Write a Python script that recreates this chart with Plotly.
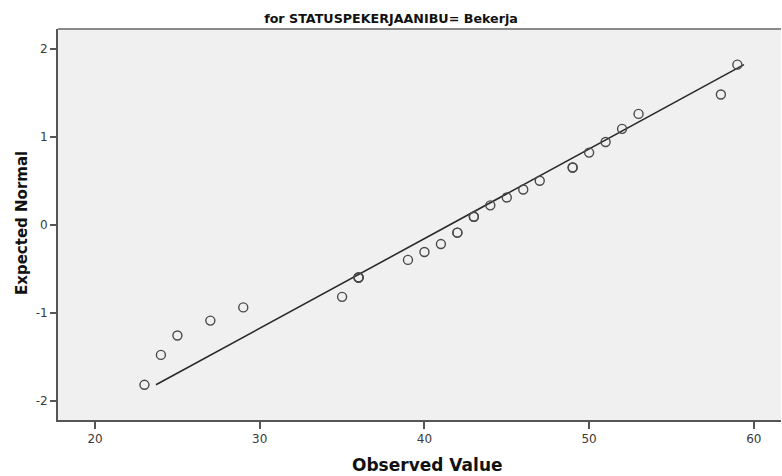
import plotly.graph_objects as go

observed = [23, 24, 25, 27, 29, 35, 36, 36, 36, 39, 40, 41, 42, 42, 43, 43,
            44, 45, 46, 47, 49, 49, 50, 51, 52, 53, 58, 59]
expected = [-1.82, -1.48, -1.26, -1.09, -0.94, -0.82, -0.60, -0.60, -0.60, -0.40,
            -0.31, -0.22, -0.09, -0.09, 0.09, 0.09, 0.22, 0.31, 0.40, 0.50,
            0.65, 0.65, 0.82, 0.94, 1.09, 1.26, 1.48, 1.82]

# Reference (normal) line end points
line_obs = [23.7, 59.4]
line_exp = [-1.82, 1.82]

x_ticks = [20, 30, 40, 50, 60]
x_labels = ["20", "30", "40", "50", "60"]
y_ticks = [-2, -1, 0, 1, 2]
y_labels = ["-2", "-1", "0", "1", "2"]

title_text = "for STATUSPEKERJAANIBU= Bekerja"
x_title = "Observed Value"
y_title = "Expected Normal"

fig = go.Figure()
fig.add_trace(go.Scatter(
    x=line_obs, y=line_exp, mode="lines",
    line=dict(color="#2a2a2a", width=1.6), hoverinfo="skip", showlegend=False))
fig.add_trace(go.Scatter(
    x=observed, y=expected, mode="markers",
    marker=dict(symbol="circle-open", size=9, color="#4a4a4a",
                line=dict(color="#4a4a4a", width=1.4)),
    showlegend=False))

W, H = 782, 476
L, R, T, B = 58, 1, 29, 56
pw = W - L - R
ph = H - T - B

fig.update_layout(
    width=W, height=H,
    margin=dict(l=L, r=R, t=T, b=B, autoexpand=False),
    paper_bgcolor="white",
    plot_bgcolor="#f0f0f0",
    title=dict(text=title_text, x=391 / W, xanchor="center", xref="container",
               y=1 - 19 / H, yanchor="middle", yref="container",
               font=dict(family="DejaVu Sans", size=12.7, color="#111111", weight="bold")),
    xaxis=dict(range=[17.75, 61.65], tickvals=x_ticks, ticktext=x_labels,
               showgrid=False, zeroline=False,
               showline=True, linecolor="#555555", linewidth=2,
               ticks="outside", ticklen=7, tickwidth=1.5, tickcolor="#555555",
               tickfont=dict(family="DejaVu Sans", size=12, color="#3a3a3a")),
    yaxis=dict(range=[-2.22, 2.225], tickvals=y_ticks, ticktext=y_labels,
               showgrid=False, zeroline=False,
               showline=True, linecolor="#555555", linewidth=2,
               ticks="outside", ticklen=6, tickwidth=1.5, tickcolor="#555555",
               tickfont=dict(family="DejaVu Sans", size=12, color="#3a3a3a")),
    shapes=[dict(type="line", xref="paper", yref="paper", x0=0, x1=1, y0=1, y1=1,
                 line=dict(color="#8a8a8a", width=2))],
    annotations=[
        dict(text=x_title, xref="paper", yref="paper",
             x=(428 - L) / pw, y=-(465 - (H - B)) / ph,
             xanchor="center", yanchor="middle", showarrow=False,
             font=dict(family="DejaVu Sans", size=17, color="#111111", weight="bold")),
        dict(text=y_title, xref="paper", yref="paper",
             x=(22 - L) / pw, y=1 - (223 - T) / ph,
             xanchor="center", yanchor="middle", textangle=-90, showarrow=False,
             font=dict(family="DejaVu Sans", size=15, color="#111111", weight="bold")),
    ],
)

fig.write_html(
    "out.html",
    config={"displayModeBar": False},
    post_script="document.body.style.margin='0';document.body.style.padding='0';"
                "document.body.style.overflow='hidden';",
)
